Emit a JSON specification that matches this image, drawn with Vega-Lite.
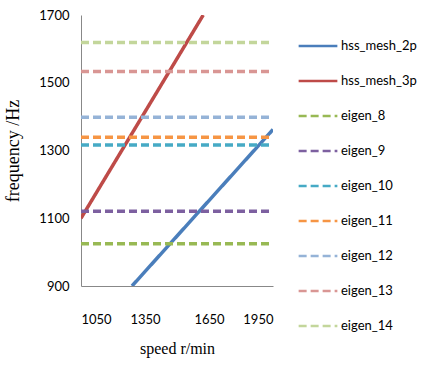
{
  "$schema": "https://vega.github.io/schema/vega-lite/v6.json",
  "width": 192,
  "height": 271,
  "autosize": {"type": "none"},
  "padding": {"left": 81, "top": 15, "right": 150, "bottom": 81},
  "background": "white",
  "data": {
    "values": [
      {"series": "hss_mesh_2p", "speed": 1289, "freq": 900},
      {"series": "hss_mesh_2p", "speed": 1950, "freq": 1362},
      {"series": "hss_mesh_3p", "speed": 1050, "freq": 1100},
      {"series": "hss_mesh_3p", "speed": 1623, "freq": 1700},
      {"series": "eigen_8", "speed": 1050, "freq": 1025},
      {"series": "eigen_8", "speed": 1950, "freq": 1025},
      {"series": "eigen_9", "speed": 1050, "freq": 1121},
      {"series": "eigen_9", "speed": 1950, "freq": 1121},
      {"series": "eigen_10", "speed": 1050, "freq": 1316},
      {"series": "eigen_10", "speed": 1950, "freq": 1316},
      {"series": "eigen_11", "speed": 1050, "freq": 1339},
      {"series": "eigen_11", "speed": 1950, "freq": 1339},
      {"series": "eigen_12", "speed": 1050, "freq": 1398},
      {"series": "eigen_12", "speed": 1950, "freq": 1398},
      {"series": "eigen_13", "speed": 1050, "freq": 1533},
      {"series": "eigen_13", "speed": 1950, "freq": 1533},
      {"series": "eigen_14", "speed": 1050, "freq": 1619},
      {"series": "eigen_14", "speed": 1950, "freq": 1619}
    ]
  },
  "mark": {"type": "line", "strokeWidth": 3.5, "clip": true},
  "encoding": {
    "x": {
      "field": "speed", "type": "quantitative",
      "scale": {"domain": [1050, 1950], "nice": false, "zero": false},
      "axis": {
        "values": [1050, 1350, 1650, 1950], "format": "d",
        "grid": false, "ticks": false,
        "domainColor": "#888888", "domainWidth": 1,
        "labelFont": "Lato", "labelFontSize": 13, "labelColor": "#000000",
        "labelPadding": 27,
        "title": "speed r/min", "titleFont": "Liberation Serif", "titleFontSize": 16,
        "titleFontWeight": "normal", "titleColor": "#000000", "titlePadding": 14
      }
    },
    "y": {
      "field": "freq", "type": "quantitative",
      "scale": {"domain": [900, 1700], "nice": false, "zero": false},
      "axis": {
        "values": [900, 1100, 1300, 1500, 1700], "format": "d",
        "grid": false, "ticks": false,
        "domainColor": "#888888", "domainWidth": 1,
        "labelFont": "Lato", "labelFontSize": 13, "labelColor": "#000000",
        "labelPadding": 12,
        "title": "frequency /Hz", "titleFont": "Liberation Serif", "titleFontSize": 18,
        "titleFontWeight": "normal", "titleColor": "#000000", "titlePadding": 16
      }
    },
    "color": {
      "field": "series", "type": "nominal",
      "scale": {
        "domain": ["hss_mesh_2p", "hss_mesh_3p", "eigen_8", "eigen_9", "eigen_10", "eigen_11", "eigen_12", "eigen_13", "eigen_14"],
        "range": ["#4A7EBB", "#BE4B48", "#98B954", "#7D60A0", "#46AAC5", "#F69544", "#95B3D7", "#D99694", "#C3D69B"]
      },
      "legend": {
        "title": null, "orient": "none", "legendX": 216, "legendY": 10,
        "symbolType": "stroke", "symbolSize": 1500, "symbolStrokeWidth": 2.5,
        "rowPadding": 7, "labelOffset": 2,
        "labelFont": "Lato", "labelFontSize": 13, "labelColor": "#000000"
      }
    },
    "strokeDash": {
      "field": "series", "type": "nominal",
      "scale": {
        "domain": ["hss_mesh_2p", "hss_mesh_3p", "eigen_8", "eigen_9", "eigen_10", "eigen_11", "eigen_12", "eigen_13", "eigen_14"],
        "range": [[1, 0], [1, 0], [8, 4], [8, 4], [8, 4], [8, 4], [8, 4], [8, 4], [8, 4]]
      },
      "legend": {
        "title": null, "orient": "none", "legendX": 216, "legendY": 10,
        "symbolType": "stroke", "symbolSize": 1500, "symbolStrokeWidth": 2.5,
        "rowPadding": 7, "labelOffset": 2,
        "labelFont": "Lato", "labelFontSize": 13, "labelColor": "#000000"
      }
    }
  },
  "config": {"view": {"stroke": null}}
}
